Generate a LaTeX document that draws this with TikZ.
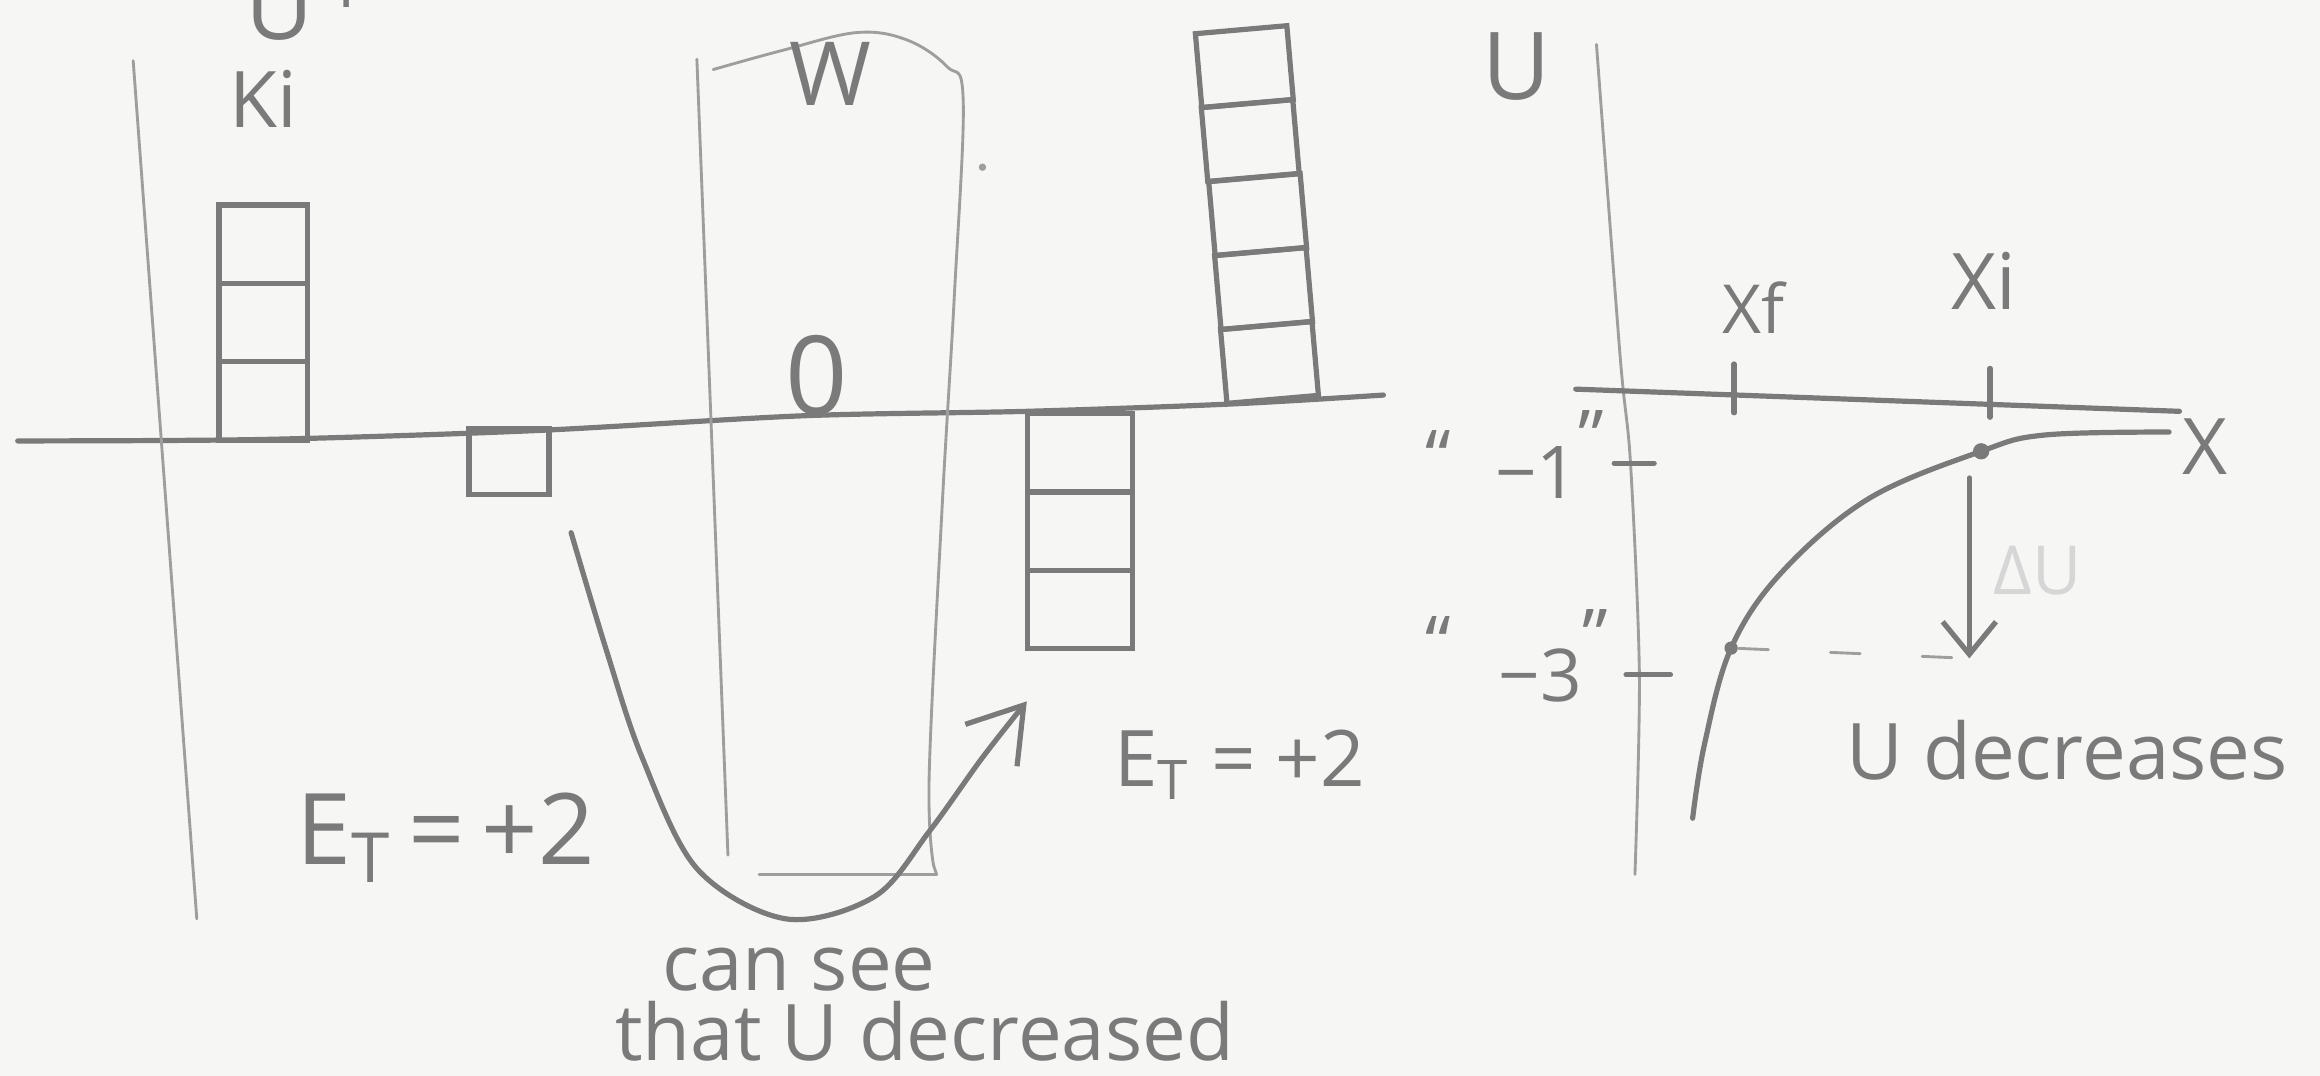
\documentclass[tikz,border=0pt]{standalone}
\usepackage{fontspec}
\setmainfont{Open Sans}
\usetikzlibrary{arrows.meta}
\definecolor{paper}{RGB}{246,246,244}
\definecolor{pencil}{RGB}{122,122,122}
\definecolor{faint}{RGB}{158,158,158}
\definecolor{ghost}{RGB}{214,214,214}

\begin{document}
\begin{tikzpicture}[x=0.01cm, y=-0.01cm,
  pen/.style={draw=pencil, line width=1pt, line cap=round, line join=round},
  thin/.style={draw=faint, line width=0.55pt, line cap=round, line join=round},
  cell/.style={rectangle, draw=pencil, line width=1pt, minimum width=0.6cm,
    minimum height=0.53cm, inner sep=0pt},
  hand/.style={text=pencil, inner sep=0pt, font=\fontsize{15}{17}\selectfont},
  big/.style={hand, font=\fontsize{18}{20}\selectfont},
  small/.style={hand, font=\fontsize{13}{15}\selectfont},
  dot/.style={circle, fill=pencil, inner sep=0pt, minimum size=0.11cm},
  barb/.style={-{Straight Barb[length=0.35cm, width=0.45cm]}},
]

% Paper
\fill[paper] (0,0) rectangle (1568,727);
\useasboundingbox (0,0) rectangle (1568,727);

% Energy bar chart: axis and column lines
\draw[pen] plot[smooth, tension=0.5] coordinates {(12,298) (178,297) (362,291)
  (543,281) (694,278) (833,273) (935,267)};
\draw[thin] (90,41) -- (133,621);
\node[big, anchor=base west] (cut) at (165,27) {U\,\textsuperscript{T}};
\node[hand] (ki) at (178,67) {Ki};

% Ki bar
\foreach \k in {0,1,2}
  \node[cell] (ki\k) at (178,{271-53*\k}) {};

% Ug bar
\node[cell, minimum width=0.54cm, minimum height=0.44cm] (ug) at (344,312) {};

% W column
\draw[thin] (471,40) -- (492,578);
\draw[thin] plot[smooth, tension=0.6] coordinates {(482,47) (529,34) (579,22)
  (613,27) (640,45) (651,68) (645,200) (637,338) (628,524) (631,585)}
  -- (633,591) -- (513,591);
\node[hand, font=\fontsize{17}{19}\selectfont] (w) at (561,50) {W};
\node[hand, font=\fontsize{21}{23}\selectfont] (wzero) at (552,254) {0};
\fill[faint] (664,113) circle (2.5);

% Kf bar
\foreach \k/\cx/\cy in {0/858/245, 1/854/195, 2/850/145, 3/845/95, 4/841/45}
  \node[cell, rotate=5, minimum width=0.62cm, minimum height=0.5cm] (kf\k) at (\cx,\cy) {};

% Uf bar
\foreach \k in {0,1,2}
  \node[cell, minimum width=0.71cm] (uf\k) at (730,{306+53*\k}) {};

% Transfer arrow
\coordinate (a0) at (386,360);
\coordinate (a1) at (694,474);
\draw[pen, barb] plot[smooth, tension=0.55] coordinates {(a0) (410,440) (434,512)
  (471,587) (531,621) (591,606) (628,562) (664,512) (a1)};

% Labels
\node[hand, font=\fontsize{19}{21}\selectfont] (etl) at (301,566) {E\textsubscript{T}\,=\,+2};
\node[hand] (etr) at (838,517) {E\textsubscript{T} = +2};
\node[hand] (see1) at (540,655) {can see};
\node[hand] (see2) at (625,697) {that U decreased};

% Potential energy graph: axes
\draw[thin] plot[smooth, tension=0.5] coordinates {(1079,30) (1095,241)
  (1102,313) (1108,456) (1105,591)};
\draw[pen] (1065,263) -- (1473,278);
\node[big] (ulab) at (1025,45) {U};
\node[hand] (xlab) at (1490,302) {X};

% Ticks
\draw[pen] (1172,246) -- (1172,279);
\draw[pen] (1345,249) -- (1345,282);
\draw[pen] (1091,313) -- (1118,313);
\draw[pen] (1099,456) -- (1129,456);
\node[small] (xflab) at (1185,208) {Xf};
\node[hand] (xilab) at (1341,190) {Xi};
\node[small, font=\fontsize{14}{16}\selectfont, anchor=base west] (m1) at (963,337)
  {\raisebox{0.22em}{“}\hspace{0.6em}−1\raisebox{0.5em}{”}};
\node[small, font=\fontsize{14}{16}\selectfont, anchor=base west] (m3) at (963,474)
  {\raisebox{0.45em}{“}\hspace{0.65em}−3\raisebox{0.55em}{”}};

% Curve and points
\coordinate (xi) at (1339,305);
\coordinate (xf) at (1170,438);
\draw[pen] plot[smooth, tension=0.6] coordinates {(1144,553) (1152,503) (xf)
  (1204,387) (1263,337) (xi) (1382,294) (1466,292)};
\node[dot] (dxi) at (xi) {};
\node[dot, minimum size=0.09cm] (dxf) at (xf) {};

% Drop in U
\coordinate (top) at (1331,323);
\coordinate (drop) at (1331,445);
\draw[pen, -{Straight Barb[length=0.22cm, width=0.36cm]}] (top) -- (drop);
\draw[thin, dash pattern=on 0.2cm off 0.42cm] (dxf) -- (drop);
\node[small, text=ghost] (du) at (1377,386) {ΔU};
\node[hand] (udec) at (1397,507) {U decreases};

\end{tikzpicture}
\end{document}
